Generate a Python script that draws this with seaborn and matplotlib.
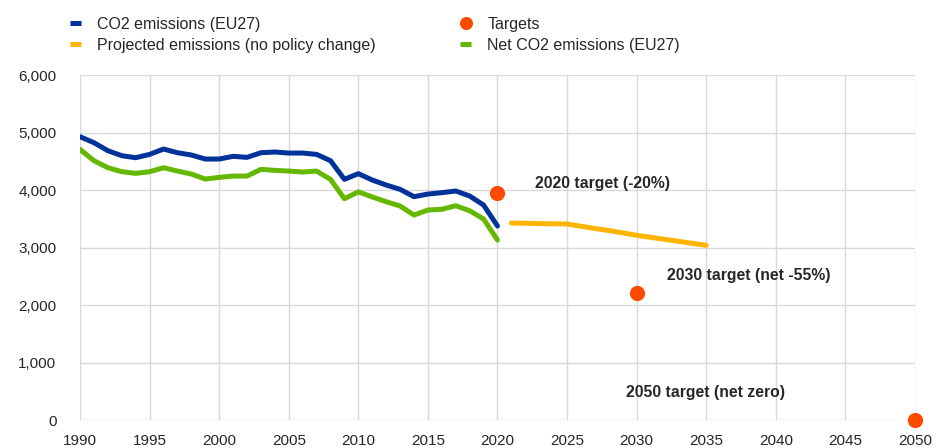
"""EU27 CO2 emissions, projections and targets."""

import matplotlib

matplotlib.use("Agg")
import matplotlib.pyplot as plt
import pandas as pd
import seaborn as sns
from matplotlib.lines import Line2D
from matplotlib.ticker import FuncFormatter, MultipleLocator

years_hist = list(range(1990, 2021))
co2_emissions = [
    4927, 4823, 4684, 4597, 4562, 4620, 4713, 4649, 4609, 4539,
    4539, 4586, 4568, 4649, 4661, 4643, 4643, 4620, 4510, 4186,
    4285, 4174, 4087, 4012, 3884, 3930, 3954, 3983, 3896, 3739,
    3374,
]
net_co2_emissions = [
    4707, 4510, 4388, 4319, 4290, 4319, 4388, 4330, 4278, 4191,
    4220, 4243, 4243, 4360, 4342, 4330, 4313, 4330, 4186, 3849,
    3968, 3880, 3797, 3722, 3565, 3652, 3664, 3727, 3640, 3496,
    3130,
]
years_proj = [2021, 2022, 2023, 2024, 2025, 2026, 2027, 2028, 2029, 2030,
              2031, 2032, 2033, 2034, 2035]
projected_emissions = [3426, 3422, 3416, 3412, 3409, 3370, 3330, 3295, 3255, 3212,
                       3178, 3143, 3108, 3073, 3038]
target_years = [2020, 2030, 2050]
target_values = [3940, 2209, 0]
target_labels = ["2020 target (-20%)", "2030 target (net -55%)", "2050 target (net zero)"]

BLUE = "#003299"
YELLOW = "#FFB400"
GREEN = "#65B800"
RED = "#FF4B00"

sns.set_theme(style="whitegrid")
plt.rcParams["font.family"] = ["Liberation Sans", "DejaVu Sans"]

hist = pd.DataFrame({"year": years_hist, "co2": co2_emissions, "net": net_co2_emissions})
proj = pd.DataFrame({"year": years_proj, "value": projected_emissions})
targets = pd.DataFrame({"year": target_years, "value": target_values})

fig = plt.figure(figsize=(9.36, 4.48), dpi=100)
ax = fig.add_axes([0.0855, 0.0625, 0.892, 0.770])

lw = 3.6
sns.lineplot(data=hist, x="year", y="co2", color=BLUE, lw=lw, ax=ax, zorder=3)
sns.lineplot(data=proj, x="year", y="value", color=YELLOW, lw=lw, ax=ax, zorder=3)
sns.lineplot(data=hist, x="year", y="net", color=GREEN, lw=lw, ax=ax, zorder=3)
sns.scatterplot(data=targets, x="year", y="value", color=RED, s=120, linewidth=0,
                ax=ax, zorder=4, clip_on=False)

label_pos = [(2022.7, 4122), (2032.2, 2522), (2029.2, 470)]
for text, (lx, ly) in zip(target_labels, label_pos):
    ax.text(lx, ly, text, fontsize=11.3, weight="bold", ha="left", va="center")

ax.set_xlim(1990, 2050)
ax.set_ylim(0, 6000)
ax.xaxis.set_major_locator(MultipleLocator(5))
ax.yaxis.set_major_locator(MultipleLocator(1000))
ax.yaxis.set_major_formatter(FuncFormatter(lambda v, _: f"{v:,.0f}"))
ax.tick_params(axis="both", labelsize=11, length=0)
ax.tick_params(axis="x", pad=10)
ax.tick_params(axis="y", pad=17)
ax.set_xlabel("")
ax.set_ylabel("")
ax.grid(color="#D9D9D9", linewidth=1)
for spine in ax.spines.values():
    spine.set_visible(False)
ax.set_facecolor("white")

handles = [
    Line2D([], [], color=BLUE, lw=3.6, solid_capstyle="butt"),
    Line2D([], [], color=YELLOW, lw=3.6, solid_capstyle="butt"),
    Line2D([], [], marker="o", color=RED, lw=0, markersize=9.4, markeredgewidth=0),
    Line2D([], [], color=GREEN, lw=3.6, solid_capstyle="butt"),
]
labels = ["CO2 emissions (EU27)", "Projected emissions (no policy change)",
          "Targets", "Net CO2 emissions (EU27)"]
fig.legend(handles, labels, ncol=2, loc="upper left", bbox_to_anchor=(0.0748, 0.962),
           frameon=False, fontsize=11.5, handlelength=0.69, handletextpad=1.0,
           columnspacing=5.3, labelspacing=0.36, borderpad=0, borderaxespad=0)

fig.savefig("out.png", dpi=100)
